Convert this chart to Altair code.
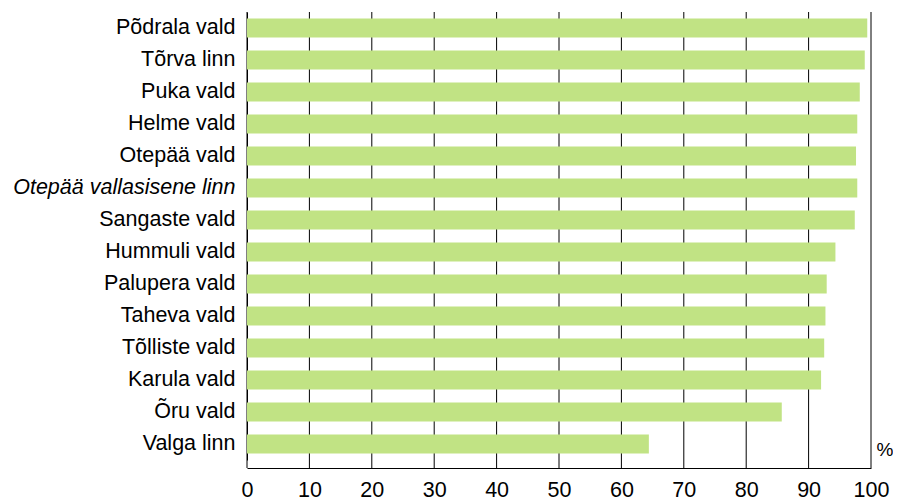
import altair as alt
import pandas as pd

categories = [
    "Põdrala vald", "Tõrva linn", "Puka vald", "Helme vald", "Otepää vald",
    "Otepää vallasisene linn", "Sangaste vald", "Hummuli vald", "Palupera vald",
    "Taheva vald", "Tõlliste vald", "Karula vald", "Õru vald", "Valga linn",
]
values = [99.4, 99.0, 98.2, 97.8, 97.6, 97.8, 97.4, 94.3, 92.9, 92.7, 92.5, 92.0, 85.7, 64.4]
tick_values = [0, 10, 20, 30, 40, 50, 60, 70, 80, 90, 100]

df = pd.DataFrame({"name": categories, "value": values})
ticks_df = pd.DataFrame({"t": tick_values})

FONT = "Liberation Sans"
FS = 21.5

x_scale = alt.Scale(domain=[0, 100], nice=False, zero=True)

bars = alt.Chart(df).mark_bar(color="#C1E384").encode(
    x=alt.X(
        "value:Q",
        scale=x_scale,
        axis=alt.Axis(
            values=tick_values,
            grid=False,
            ticks=False,
            tickSize=0,
            domainColor="black",
            domainWidth=1,
            offset=8,
            labelFlush=False,
            labelFont=FONT,
            labelFontSize=FS,
            labelColor="black",
            labelPadding=11,
            title="%",
            titleFont=FONT,
            titleFontSize=19,
            titleFontWeight="normal",
            titleColor="black",
            titleX=629,
            titleY=-9,
            titleAlign="left",
            titleBaseline="bottom",
        ),
    ),
    y=alt.Y(
        "name:N",
        sort=categories,
        scale=alt.Scale(paddingInner=0.4, paddingOuter=0.2),
        axis=alt.Axis(
            title=None,
            ticks=False,
            grid=False,
            domainColor="black",
            domainWidth=1,
            labelFont=FONT,
            labelFontSize=FS,
            labelColor="black",
            labelPadding=12,
            labelLimit=400,
            labelFontStyle=alt.expr(
                "datum.value == 'Otepää vallasisene linn' ? 'italic' : 'normal'"
            ),
        ),
    ),
)

grid = alt.Chart(ticks_df).mark_rule(color="black", strokeWidth=1).encode(
    x=alt.X("t:Q", scale=x_scale),
    y=alt.value(0),
    y2=alt.value(456),
)

chart = (
    alt.layer(grid, bars)
    .properties(
        width=624,
        height=448,
        autosize=alt.AutoSizeParams(type="none"),
        padding={"left": 239, "top": 4, "right": 22, "bottom": 40},
        background="white",
    )
    .configure_view(stroke=None)
)

chart.save("out.html", embed_options={"renderer": "svg", "actions": False})
